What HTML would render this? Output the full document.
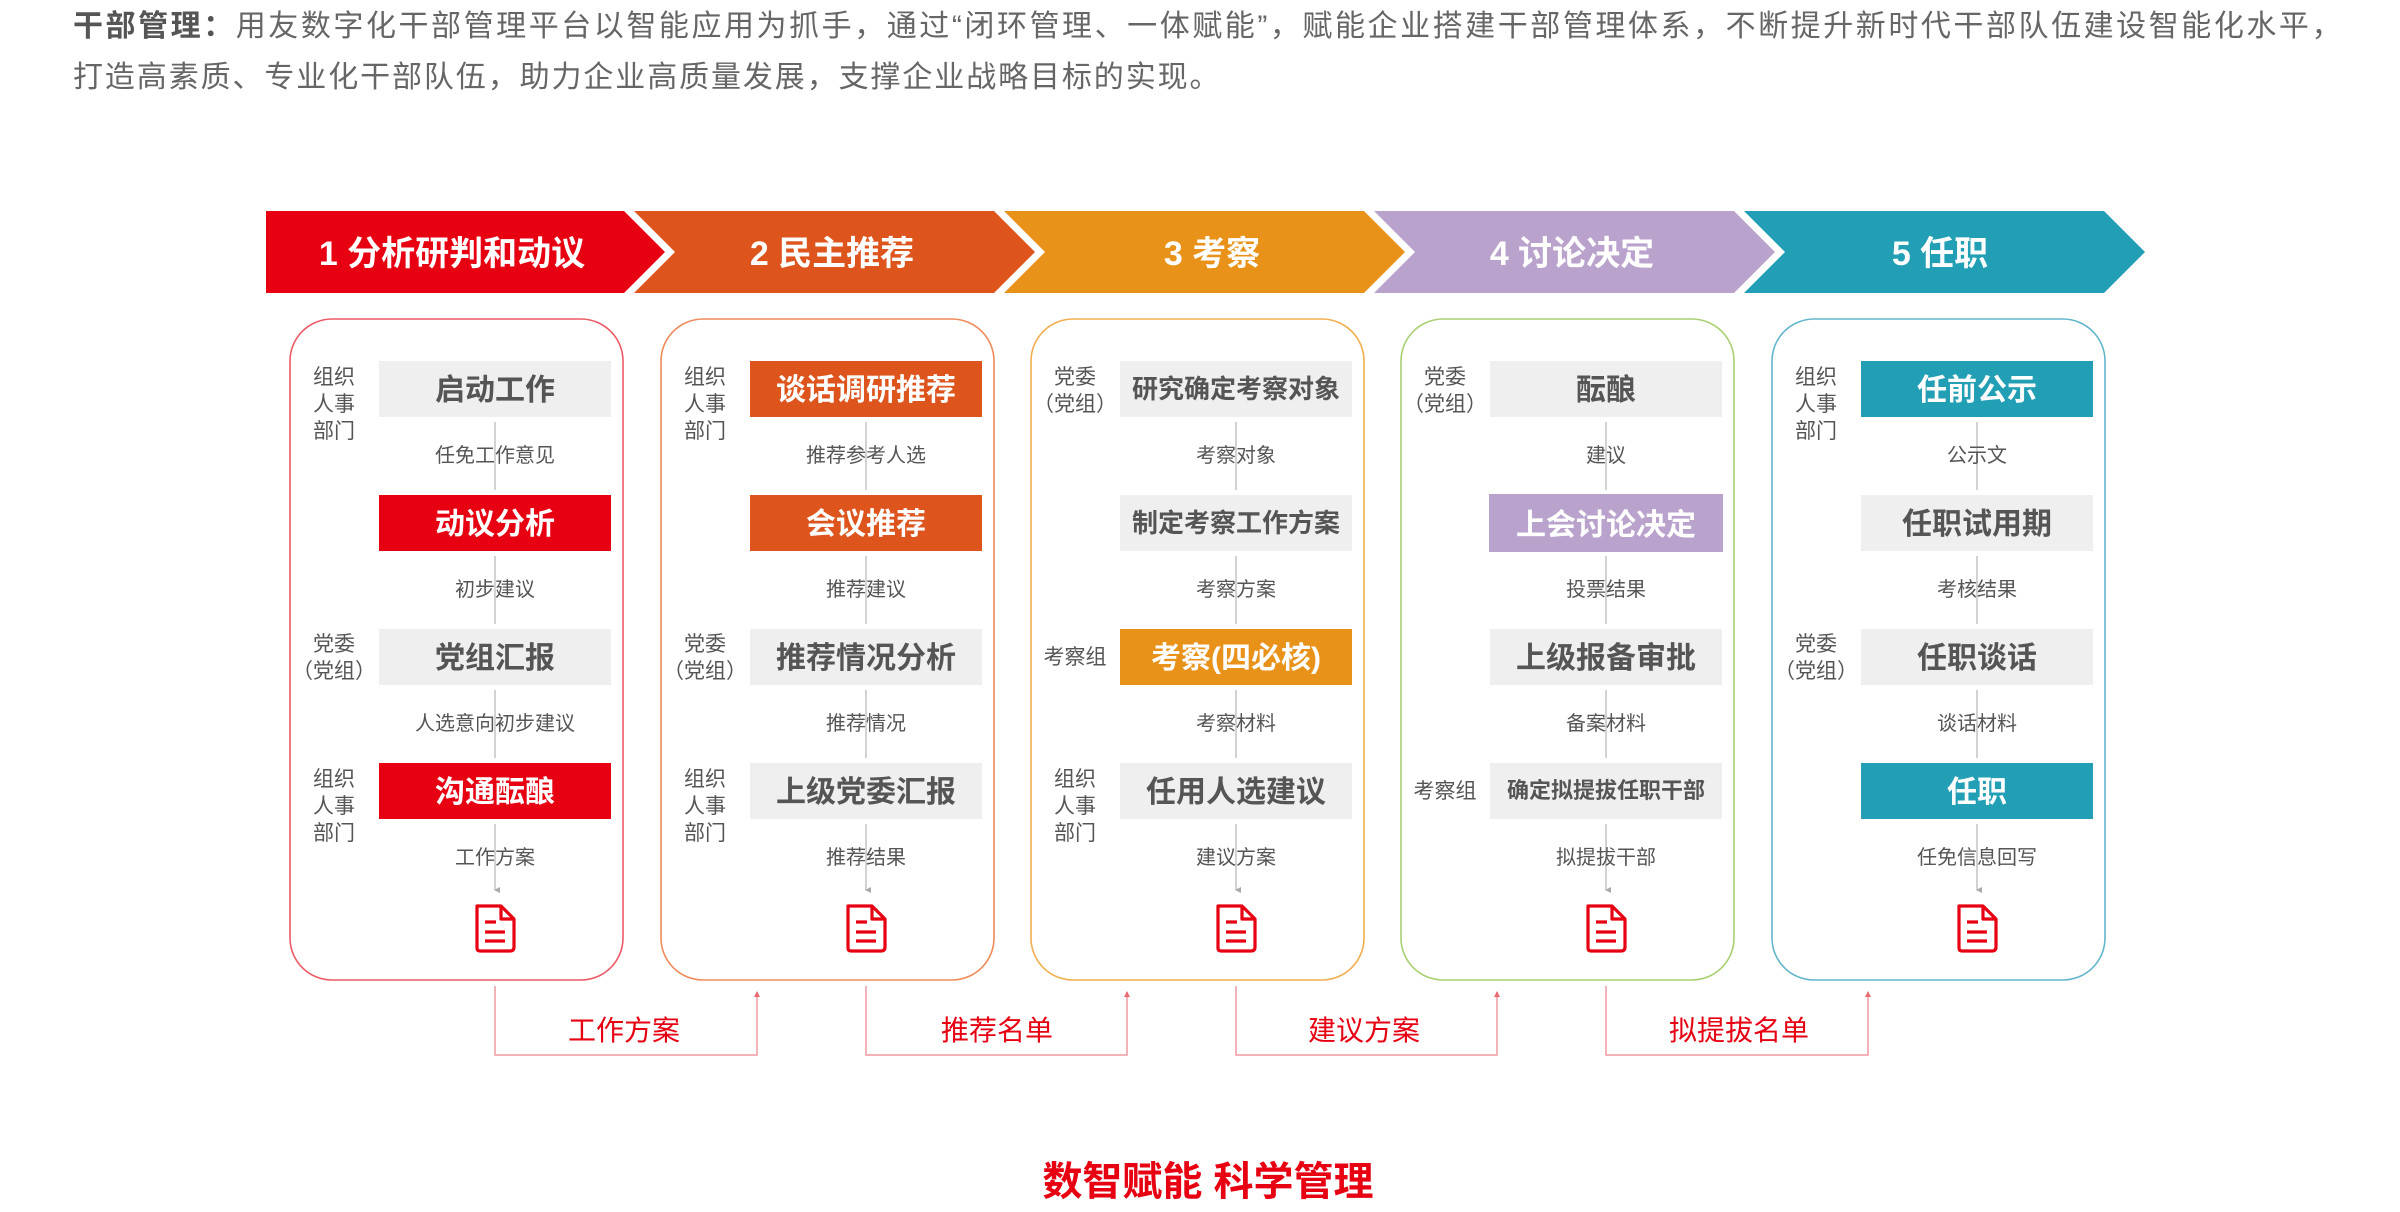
<!DOCTYPE html>
<html><head><meta charset="utf-8"><style>
html,body{margin:0;padding:0;background:#fff;}
body{width:2400px;height:1212px;position:relative;overflow:hidden;font-family:"Liberation Sans","Noto Sans CJK SC",sans-serif;}
.intro{position:absolute;left:73px;font-size:30px;line-height:50px;color:#666;letter-spacing:2.55px;white-space:nowrap;}
svg{position:absolute;left:0;top:0;}
svg text{font-family:"Liberation Sans","Noto Sans CJK SC",sans-serif;}
</style></head><body>
<div class="intro" style="top:2px"><b style="color:#555">干部管理：</b>用友数字化干部管理平台以智能应用为抓手，通过“闭环管理、一体赋能”，赋能企业搭建干部管理体系，不断提升新时代干部队伍建设智能化水平，</div>
<div class="intro" style="top:53px;letter-spacing:1.9px">打造高素质、专业化干部队伍，助力企业高质量发展，支撑企业战略目标的实现。</div>
<svg width="2400" height="1212" viewBox="0 0 2400 1212">
<defs>
<marker id="ag" markerWidth="6" markerHeight="6" refX="3" refY="5" orient="auto-start-reverse" markerUnits="userSpaceOnUse"><path d="M0,0 L3,6 L6,0" fill="#aaa"/></marker>
<marker id="ar" markerWidth="6" markerHeight="6" refX="3" refY="1" orient="0" markerUnits="userSpaceOnUse"><path d="M0,6 L3,0 L6,6" fill="#e86a72"/></marker>
<g id="doc" fill="none" stroke="#e60012" stroke-width="3.2" stroke-linejoin="round">
<path d="M-18,-22 H6 L19,-9 V19 Q19,23 15,23 H-15 Q-18,23 -18,20 Z"/>
<path d="M6,-22 V-9 H19"/>
<path d="M-10,-6 H1 M-10,4 H10 M-10,13 H10"/>
</g>
</defs>
<g font-size="34" font-weight="bold" fill="#fff" text-anchor="middle">
<polygon points="266,211 624,211 665,252 624,293 266,293" fill="#e60012"/>
<text x="452" y="265">1 分析研判和动议</text>
<polygon points="634,211 994,211 1035,252 994,293 634,293 675,252" fill="#dd541c"/>
<text x="832" y="265">2 民主推荐</text>
<polygon points="1004,211 1364,211 1405,252 1364,293 1004,293 1045,252" fill="#e8921a"/>
<text x="1212" y="265">3 考察</text>
<polygon points="1374,211 1734,211 1775,252 1734,293 1374,293 1415,252" fill="#b9a3cc"/>
<text x="1572" y="265">4 讨论决定</text>
<polygon points="1744,211 2104,211 2145,252 2104,293 1744,293 1785,252" fill="#239fb5"/>
<text x="1940" y="265">5 任职</text>
</g>
<g fill="none" stroke-width="1.6">
<rect x="290" y="319" width="333" height="661" rx="42" stroke="#ec5a66"/>
<rect x="661" y="319" width="333" height="661" rx="42" stroke="#ef8a5a"/>
<rect x="1031" y="319" width="333" height="661" rx="42" stroke="#f2ae4e"/>
<rect x="1401" y="319" width="333" height="661" rx="42" stroke="#a8d070"/>
<rect x="1772" y="319" width="333" height="661" rx="42" stroke="#62b6cc"/>
</g>
<g stroke="#bbb" stroke-width="1.3" marker-end="url(#ag)">
<path d="M495,422 V490 M495,556 V624 M495,690 V758 M495,824 V890"/>
<path d="M866,422 V490 M866,556 V624 M866,690 V758 M866,824 V890"/>
<path d="M1236,422 V490 M1236,556 V624 M1236,690 V758 M1236,824 V890"/>
<path d="M1606,422 V490 M1606,556 V624 M1606,690 V758 M1606,824 V890"/>
<path d="M1977,422 V490 M1977,556 V624 M1977,690 V758 M1977,824 V890"/>
</g>
<g>
<rect x="379" y="361" width="232" height="56" fill="#efefef"/>
<rect x="379" y="495" width="232" height="56" fill="#e60012"/>
<rect x="379" y="629" width="232" height="56" fill="#efefef"/>
<rect x="379" y="763" width="232" height="56" fill="#e60012"/>
<rect x="750" y="361" width="232" height="56" fill="#dd541c"/>
<rect x="750" y="495" width="232" height="56" fill="#dd541c"/>
<rect x="750" y="629" width="232" height="56" fill="#efefef"/>
<rect x="750" y="763" width="232" height="56" fill="#efefef"/>
<rect x="1120" y="361" width="232" height="56" fill="#efefef"/>
<rect x="1120" y="495" width="232" height="56" fill="#efefef"/>
<rect x="1120" y="629" width="232" height="56" fill="#e8921a"/>
<rect x="1120" y="763" width="232" height="56" fill="#efefef"/>
<rect x="1490" y="361" width="232" height="56" fill="#efefef"/>
<rect x="1489" y="494" width="234" height="58" fill="#b9a3cc"/>
<rect x="1490" y="629" width="232" height="56" fill="#efefef"/>
<rect x="1490" y="763" width="232" height="56" fill="#efefef"/>
<rect x="1861" y="361" width="232" height="56" fill="#239fb5"/>
<rect x="1861" y="495" width="232" height="56" fill="#efefef"/>
<rect x="1861" y="629" width="232" height="56" fill="#efefef"/>
<rect x="1861" y="763" width="232" height="56" fill="#239fb5"/>
</g>
<g font-size="30" font-weight="bold" text-anchor="middle" fill="#555">
<text x="495" y="400">启动工作</text>
<text x="495" y="534" fill="#fff">动议分析</text>
<text x="495" y="668">党组汇报</text>
<text x="495" y="802" fill="#fff">沟通酝酿</text>
<text x="866" y="400" fill="#fff">谈话调研推荐</text>
<text x="866" y="534" fill="#fff">会议推荐</text>
<text x="866" y="668">推荐情况分析</text>
<text x="866" y="802">上级党委汇报</text>
<text x="1236" y="398" font-size="26">研究确定考察对象</text>
<text x="1236" y="532" font-size="26">制定考察工作方案</text>
<text x="1236" y="668" fill="#fff">考察(四必核)</text>
<text x="1236" y="802">任用人选建议</text>
<text x="1606" y="400">酝酿</text>
<text x="1606" y="535" fill="#fff">上会讨论决定</text>
<text x="1606" y="668">上级报备审批</text>
<text x="1606" y="798" font-size="22">确定拟提拔任职干部</text>
<text x="1977" y="400" fill="#fff">任前公示</text>
<text x="1977" y="534">任职试用期</text>
<text x="1977" y="668">任职谈话</text>
<text x="1977" y="802" fill="#fff">任职</text>
</g>
<g font-size="20" text-anchor="middle" fill="#555">
<text x="495" y="462">任免工作意见</text><text x="495" y="596">初步建议</text><text x="495" y="730">人选意向初步建议</text><text x="495" y="864">工作方案</text>
<text x="866" y="462">推荐参考人选</text><text x="866" y="596">推荐建议</text><text x="866" y="730">推荐情况</text><text x="866" y="864">推荐结果</text>
<text x="1236" y="462">考察对象</text><text x="1236" y="596">考察方案</text><text x="1236" y="730">考察材料</text><text x="1236" y="864">建议方案</text>
<text x="1606" y="462">建议</text><text x="1606" y="596">投票结果</text><text x="1606" y="730">备案材料</text><text x="1606" y="864">拟提拔干部</text>
<text x="1977" y="462">公示文</text><text x="1977" y="596">考核结果</text><text x="1977" y="730">谈话材料</text><text x="1977" y="864">任免信息回写</text>
</g>
<g font-size="21" text-anchor="middle" fill="#555">
<text x="334" y="384">组织</text><text x="334" y="411">人事</text><text x="334" y="438">部门</text>
<text x="334" y="651">党委</text><text x="334" y="678">（党组）</text>
<text x="334" y="786">组织</text><text x="334" y="813">人事</text><text x="334" y="840">部门</text>
<text x="705" y="384">组织</text><text x="705" y="411">人事</text><text x="705" y="438">部门</text>
<text x="705" y="651">党委</text><text x="705" y="678">（党组）</text>
<text x="705" y="786">组织</text><text x="705" y="813">人事</text><text x="705" y="840">部门</text>
<text x="1075" y="384">党委</text><text x="1075" y="411">（党组）</text>
<text x="1075" y="664">考察组</text>
<text x="1075" y="786">组织</text><text x="1075" y="813">人事</text><text x="1075" y="840">部门</text>
<text x="1445" y="384">党委</text><text x="1445" y="411">（党组）</text>
<text x="1445" y="798">考察组</text>
<text x="1816" y="384">组织</text><text x="1816" y="411">人事</text><text x="1816" y="438">部门</text>
<text x="1816" y="651">党委</text><text x="1816" y="678">（党组）</text>
</g>
<use href="#doc" x="495" y="928"/>
<use href="#doc" x="866" y="928"/>
<use href="#doc" x="1236" y="928"/>
<use href="#doc" x="1606" y="928"/>
<use href="#doc" x="1977" y="928"/>
<g fill="none" stroke="#f09aa0" stroke-width="1.5" marker-end="url(#ar)">
<path d="M495,986 V1055 H757 V992"/>
<path d="M866,986 V1055 H1127 V992"/>
<path d="M1236,986 V1055 H1497 V992"/>
<path d="M1606,986 V1055 H1868 V992"/>
</g>
<g font-size="28" text-anchor="middle" fill="#e60012">
<text x="624" y="1040">工作方案</text>
<text x="997" y="1040">推荐名单</text>
<text x="1364" y="1040">建议方案</text>
<text x="1739" y="1040">拟提拔名单</text>
</g>
<text x="1208" y="1211" font-size="40" font-weight="bold" fill="#e60012" text-anchor="middle" dy="-0.4em">数智赋能 科学管理</text>
</svg>
</body></html>
